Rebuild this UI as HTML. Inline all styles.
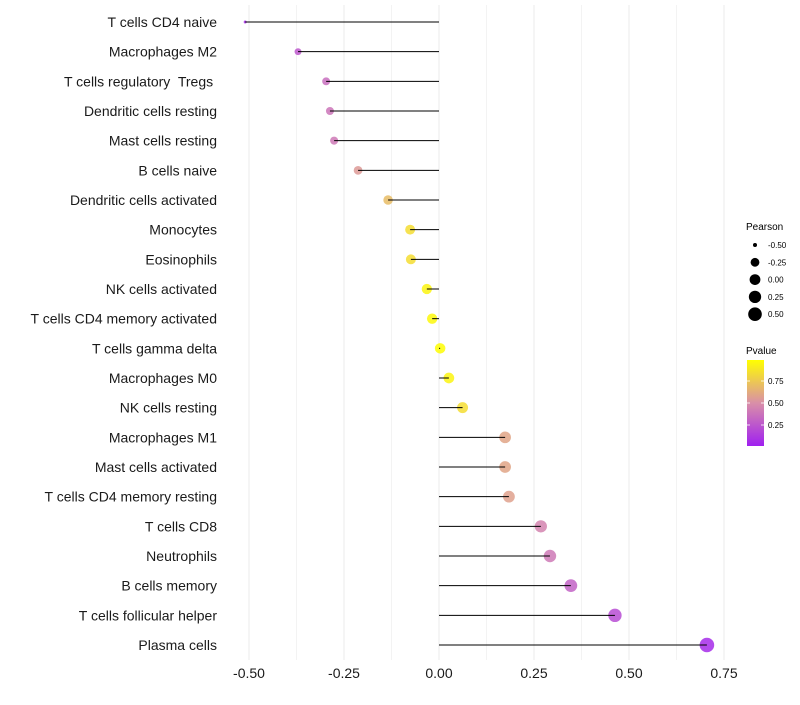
<!DOCTYPE html>
<html><head><meta charset="utf-8"><style>body{margin:0;background:#fff}text{font-family:"Liberation Sans",sans-serif;white-space:pre}</style></head>
<body>
<svg id="chart" width="800" height="700" xmlns="http://www.w3.org/2000/svg">
<defs><linearGradient id="pg" x1="0" y1="1" x2="0" y2="0">
<stop offset="0" stop-color="#A020F0"/><stop offset="0.5" stop-color="#D98FA8"/><stop offset="1" stop-color="#FFFF00"/></linearGradient></defs>
<g id="grid"></g>
<g id="marks"></g>
<g id="ylabels"></g>
<g id="xlabels"></g>
<g id="sleg">
<text x="746" y="230" font-size="10">Pearson</text>
</g>
<g>
<text x="746" y="354" font-size="10">Pvalue</text>
<rect x="747" y="360" width="17" height="86" fill="url(#pg)"/>
<g id="cleg"></g>
</g>
</svg>
<script>
const categories=["T cells CD4 naive","Macrophages M2","T cells regulatory  Tregs ","Dendritic cells resting","Mast cells resting","B cells naive","Dendritic cells activated","Monocytes","Eosinophils","NK cells activated","T cells CD4 memory activated","T cells gamma delta","Macrophages M0","NK cells resting","Macrophages M1","Mast cells activated","T cells CD4 memory resting","T cells CD8","Neutrophils","B cells memory","T cells follicular helper","Plasma cells"];
const pearson=[-0.51,-0.371,-0.297,-0.287,-0.276,-0.213,-0.134,-0.076,-0.074,-0.032,-0.018,0.003,0.026,0.062,0.174,0.174,0.184,0.268,0.292,0.347,0.463,0.705];
const pvalue=[0.05,0.25,0.35,0.38,0.4,0.55,0.7,0.85,0.85,0.95,0.97,0.99,0.95,0.85,0.6,0.6,0.58,0.45,0.4,0.3,0.2,0.05];
const xTicks=[-0.5,-0.25,0,0.25,0.5,0.75];
const xTickLabels=["-0.50","-0.25","0.00","0.25","0.50","0.75"];
const sizeBreaks=[-0.5,-0.25,0,0.25,0.5];
const sizeLabels=["-0.50","-0.25","0.00","0.25","0.50"];
const pBreaks=[0.25,0.5,0.75];
const pLabels=["0.25","0.50","0.75"];
const NS="http://www.w3.org/2000/svg";
const X=v=>439+v*380;
const Y=i=>22+i*(623/(categories.length-1));
const R=v=>1.5+5.8*Math.sqrt(Math.max(0,(v+0.51)/1.215));
const RL=v=>2+4.8*Math.sqrt(Math.max(0,(v+0.5)/1.0));
function lerp(a,b,t){return a.map((x,i)=>Math.round(x+(b[i]-x)*t));}
function col(p){const s=[[160,32,240],[217,143,168],[255,255,0]];const c=p<0.5?lerp(s[0],s[1],p/0.5):lerp(s[1],s[2],(p-0.5)/0.5);return `rgb(${c})`;}
function mk(tag,attrs,parent){const e=document.createElementNS(NS,tag);for(const k in attrs)e.setAttribute(k,attrs[k]);parent.appendChild(e);return e;}
const grid=document.getElementById('grid');
for(let v=-0.5;v<=0.751;v+=0.125){
const l=mk('line',{x1:X(v),x2:X(v),y1:5,y2:660,stroke:'#ebebeb','stroke-width':Math.abs((v*4)%1)<0.01?1:0.6},grid);

}
const marks=document.getElementById('marks'),yl=document.getElementById('ylabels'),xl=document.getElementById('xlabels');
categories.forEach((c,i)=>{
const y=Y(i);
const d=mk('circle',{cx:X(pearson[i]),cy:y,r:R(pearson[i]),fill:col(pvalue[i]),'fill-opacity':0.85},marks);


const s=mk('line',{x1:X(0),x2:X(pearson[i]),y1:y,y2:y,stroke:'#000','stroke-width':1},marks);


const t=mk('text',{x:217,y:y+5,'font-size':14,'text-anchor':'end',fill:'#1a1a1a'},yl);
t.textContent=c;


});
xTicks.forEach((v,i)=>{const t=mk('text',{x:X(v),y:678,'font-size':14,'text-anchor':'middle',fill:'#1a1a1a'},xl);t.textContent=xTickLabels[i];

});
const sl=document.getElementById('sleg');
sizeBreaks.forEach((v,i)=>{const y=245+i*17.3;
const c=mk('circle',{cx:755,cy:y,r:RL(v)},sl);


const t=mk('text',{x:768,y:y+3,'font-size':8},sl);t.textContent=sizeLabels[i];

});
const cl=document.getElementById('cleg');
pBreaks.forEach((p,i)=>{const y=447-p*88;
mk('line',{x1:747,x2:750,y1:y,y2:y,stroke:'#fff','stroke-width':0.8},cl);
mk('line',{x1:761,x2:764,y1:y,y2:y,stroke:'#fff','stroke-width':0.8},cl);
const t=mk('text',{x:768,y:y+3,'font-size':8},cl);t.textContent=pLabels[i];

});
</script>
</body></html>
